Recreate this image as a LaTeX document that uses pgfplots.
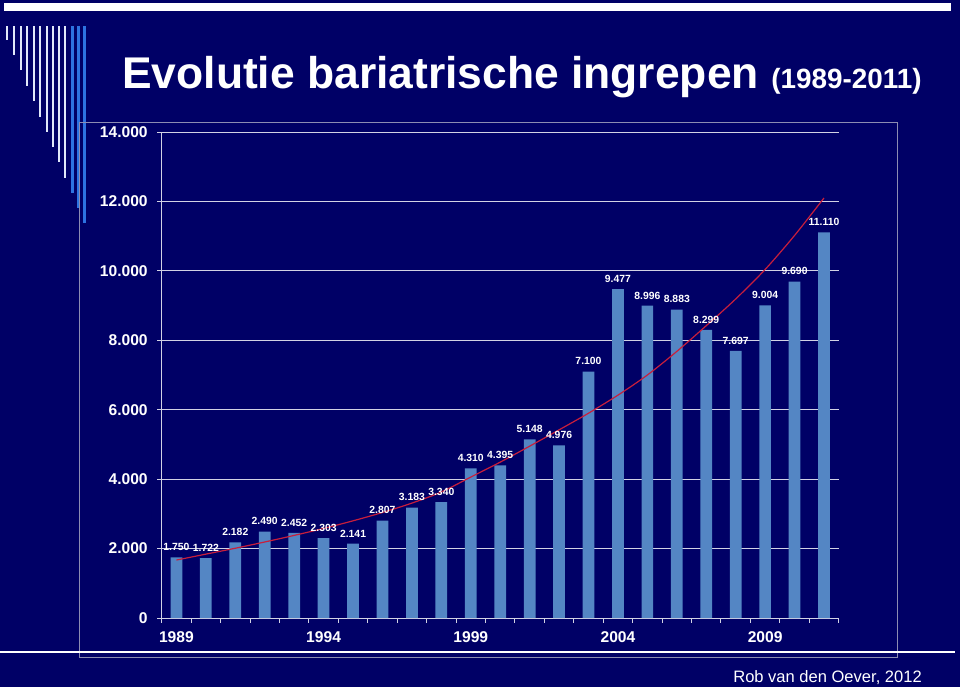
\documentclass[border=0pt]{standalone}
\usepackage{fontspec}
\usepackage{pgfplots}
\usepackage{pgfplotstable}
\pgfplotsset{compat=1.18}
\setmainfont{Liberation Sans}
\definecolor{navybg}{RGB}{0,0,102}
\definecolor{barblue}{RGB}{84,134,196}
\definecolor{trendred}{RGB}{200,30,60}
\definecolor{gridc}{RGB}{210,210,228}
\definecolor{framec}{RGB}{140,140,178}
\definecolor{decoblue}{RGB}{45,115,225}
\definecolor{decowhite}{RGB}{225,232,250}

\pgfplotstableread{
x year value trend
0 1989 1750 1670
1 1990 1722 1840
2 1991 2182 2010
3 1992 2490 2190
4 1993 2452 2380
5 1994 2303 2580
6 1995 2141 2800
7 1996 2807 3040
8 1997 3183 3310
9 1998 3340 3630
10 1999 4310 4060
11 2000 4395 4490
12 2001 5148 4950
13 2002 4976 5420
14 2003 7100 5900
15 2004 9477 6420
16 2005 8996 7000
17 2006 8883 7680
18 2007 8299 8420
19 2008 7697 9190
20 2009 9004 10040
21 2010 9690 11020
22 2011 11110 12100
}\datatable

\begin{document}
\begin{tikzpicture}
\begin{scope}[x=0.75pt,y=-0.75pt]
\path[use as bounding box, fill=navybg] (0,0) rectangle (960,687);
\fill[white] (4,3) rectangle (951,11);
\foreach \xx/\yy in {7/40,14/55,21/70,27/86,34/101,40/117,47/132,53/147,59/162,65/178}{
  \fill[decowhite] (\xx-1.4,26) rectangle (\xx+1.4,\yy);
}
\foreach \xx/\yy in {72/193,78/208,84/223}{
  \fill[decoblue] (\xx-1.5,26) rectangle (\xx+1.5,\yy);
}
\draw[framec, line width=0.75pt] (79,122) rectangle (897,657);
\draw[white, line width=1.5pt] (0,652) -- (955,652);
\node[anchor=base west, text=white, font=\bfseries\fontsize{33.3}{36}\selectfont, inner sep=0pt] at (122,88) {Evolutie bariatrische ingrepen};
\node[anchor=base east, text=white, font=\bfseries\fontsize{20.9}{24}\selectfont, inner sep=0pt] at (922,88) {(1989-2011)};
\node[anchor=base east, text=white, font=\fontsize{12.4}{14}\selectfont, inner sep=0pt] at (922,682) {Rob van den Oever, 2012};
\end{scope}
\begin{axis}[
  at={(121.275pt,-463.5pt)}, anchor=south west,
  scale only axis, width=507.75pt, height=364.5pt,
  xmin=-0.5, xmax=22.5, ymin=0, ymax=14000,
  axis x line*=bottom, axis y line*=left,
  axis line style={gridc, line width=0.75pt, -},
  ymajorgrids, grid style={gridc, line width=0.75pt},
  tick align=outside, major tick length=3.5pt,
  tick style={gridc, line width=0.75pt},
  scaled y ticks=false,
  xtick={-0.5,0.5,1.5,2.5,3.5,4.5,5.5,6.5,7.5,8.5,9.5,10.5,11.5,12.5,13.5,14.5,15.5,16.5,17.5,18.5,19.5,20.5,21.5,22.5},
  xticklabel=\empty,
  extra x ticks={0,5,10,15,20},
  extra x tick labels={1989,1994,1999,2004,2009},
  extra x tick style={major tick length=0pt, xmajorgrids=false, xticklabel style={yshift=-7pt}},
  ytick={0,2000,4000,6000,8000,10000,12000,14000},
  yticklabel style={/pgf/number format/fixed, /pgf/number format/1000 sep={.}, /pgf/number format/assume math mode=true, xshift=-3.5pt},
  ticklabel style={font=\bfseries\fontsize{11.7}{13}\selectfont, text=white},
]
\addplot[ybar, bar width=8.8pt, fill=barblue, draw=none,
  nodes near coords={\pgfmathprintnumber[fixed,1000 sep={.},assume math mode=true]{\pgfplotspointmeta}},
  every node near coord/.append style={font=\bfseries\fontsize{7.8}{9}\selectfont, text=white, anchor=south, inner sep=0pt, yshift=4.7pt}]
  table[x=x, y=value]{\datatable};
\addplot[trendred, line width=0.9pt, smooth, mark=none] table[x=x, y=trend]{\datatable};
\end{axis}
\end{tikzpicture}
\end{document}
